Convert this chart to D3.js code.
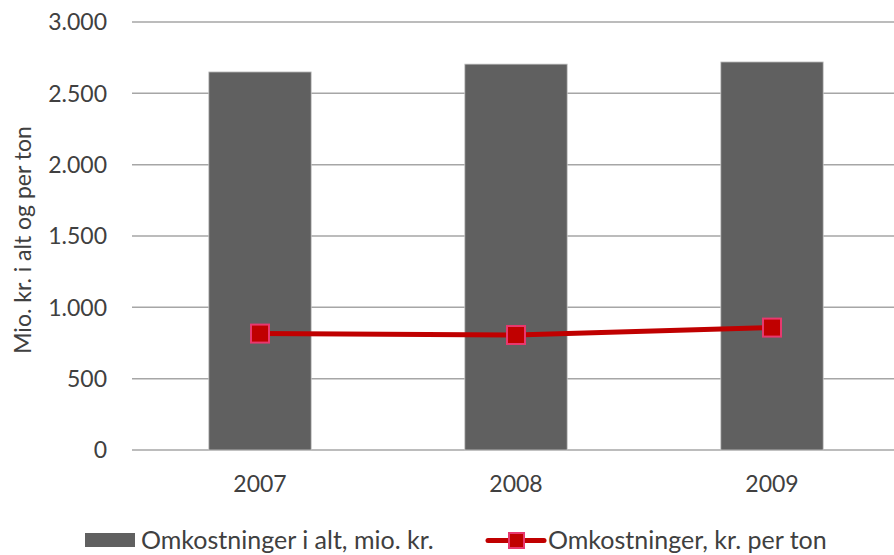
<!DOCTYPE html>
<html>
<head>
<meta charset="utf-8">
<title>Omkostninger</title>
<script src="https://d3js.org/d3.v7.min.js"></script>
<style>
  body { margin: 0; background: #fff; }
  svg { display: block; font-family: Lato, "Open Sans", sans-serif; }
  .grid line { stroke: #a6a6a6; stroke-width: 1.5px; }
  .tick-label { fill: #404040; font-size: 23px; }
  .legend text { fill: #404040; font-size: 25px; }
</style>
</head>
<body>
<div id="chart"></div>
<script>
// data
const years = ["2007", "2008", "2009"];
const totalCost = [2650, 2705, 2720];      // Omkostninger i alt, mio. kr.
const costPerTon = [816, 806, 858];        // Omkostninger, kr. per ton
const yTicks = [0, 500, 1000, 1500, 2000, 2500, 3000];

const seriesNames = ["Omkostninger i alt, mio. kr.", "Omkostninger, kr. per ton"];
const yTitle = "Mio. kr. i alt og per ton";

const W = 894, H = 555;
const margin = { top: 22, right: -6, bottom: 105, left: 132 };

// danish style number format: 3.000
const da = d3.formatLocale({ decimal: ",", thousands: ".", grouping: [3], currency: ["", " kr."] });
const fmt = da.format(",d");

const svg = d3.select("#chart").append("svg")
    .attr("width", W)
    .attr("height", H);

const x = d3.scaleBand()
    .domain(years)
    .range([margin.left, W - margin.right])
    .paddingInner(0.6)
    .paddingOuter(0.3);

const y = d3.scaleLinear()
    .domain([0, 3000])
    .range([H - margin.bottom, margin.top]);

// gridlines
const grid = svg.append("g").attr("class", "grid");
grid.selectAll("line")
    .data(yTicks)
    .enter().append("line")
    .attr("x1", margin.left)
    .attr("x2", W)
    .attr("y1", d => y(d))
    .attr("y2", d => y(d));

// y tick labels
svg.append("g").selectAll("text")
    .data(yTicks)
    .enter().append("text")
    .attr("class", "tick-label")
    .attr("x", 107)
    .attr("y", d => y(d))
    .attr("dy", "0.36em")
    .attr("text-anchor", "end")
    .text(d => fmt(d));

// x tick labels
svg.append("g").selectAll("text")
    .data(years)
    .enter().append("text")
    .attr("class", "tick-label")
    .attr("x", d => x(d) + x.bandwidth() / 2)
    .attr("y", 492)
    .attr("text-anchor", "middle")
    .text(d => d);

// y axis title
svg.append("text")
    .attr("transform", `translate(31,240) rotate(-90)`)
    .attr("text-anchor", "middle")
    .style("font-size", "23px")
    .style("fill", "#404040")
    .text(yTitle);

// bars
svg.append("g").selectAll("rect")
    .data(years)
    .enter().append("rect")
    .attr("x", d => x(d))
    .attr("width", x.bandwidth())
    .attr("y", (d, i) => y(totalCost[i]))
    .attr("height", (d, i) => y(0) - y(totalCost[i]))
    .attr("fill", "#606060")
    .attr("stroke", "#c8c8c8")
    .attr("stroke-width", 0.8);

// line + markers
const line = d3.line()
    .x((d, i) => x(years[i]) + x.bandwidth() / 2)
    .y(d => y(d));

svg.append("path")
    .datum(costPerTon)
    .attr("d", line)
    .attr("fill", "none")
    .attr("stroke", "#c00000")
    .attr("stroke-width", 5);

const ms = 18;
svg.append("g").selectAll("rect")
    .data(costPerTon)
    .enter().append("rect")
    .attr("x", (d, i) => x(years[i]) + x.bandwidth() / 2 - ms / 2)
    .attr("y", d => y(d) - ms / 2)
    .attr("width", ms)
    .attr("height", ms)
    .attr("fill", "#c00000")
    .attr("stroke", "#e8386e")
    .attr("stroke-width", 2);

// legend
const legend = svg.append("g").attr("class", "legend");
const ly = 540;

legend.append("rect")
    .attr("x", 85).attr("y", 533)
    .attr("width", 50).attr("height", 14)
    .attr("fill", "#606060");
legend.append("text")
    .attr("x", 141).attr("y", ly).attr("dy", "0.35em")
    .text(seriesNames[0]);

legend.append("line")
    .attr("x1", 488).attr("x2", 544)
    .attr("y1", ly + 0.5).attr("y2", ly + 0.5)
    .attr("stroke", "#c00000").attr("stroke-width", 5)
    .attr("stroke-linecap", "round");
legend.append("rect")
    .attr("x", 509).attr("y", ly + 0.5 - 7.5)
    .attr("width", 15).attr("height", 15)
    .attr("fill", "#c00000")
    .attr("stroke", "#e8386e").attr("stroke-width", 2);
legend.append("text")
    .attr("x", 548).attr("y", ly).attr("dy", "0.35em")
    .text(seriesNames[1]);
</script>
</body>
</html>
